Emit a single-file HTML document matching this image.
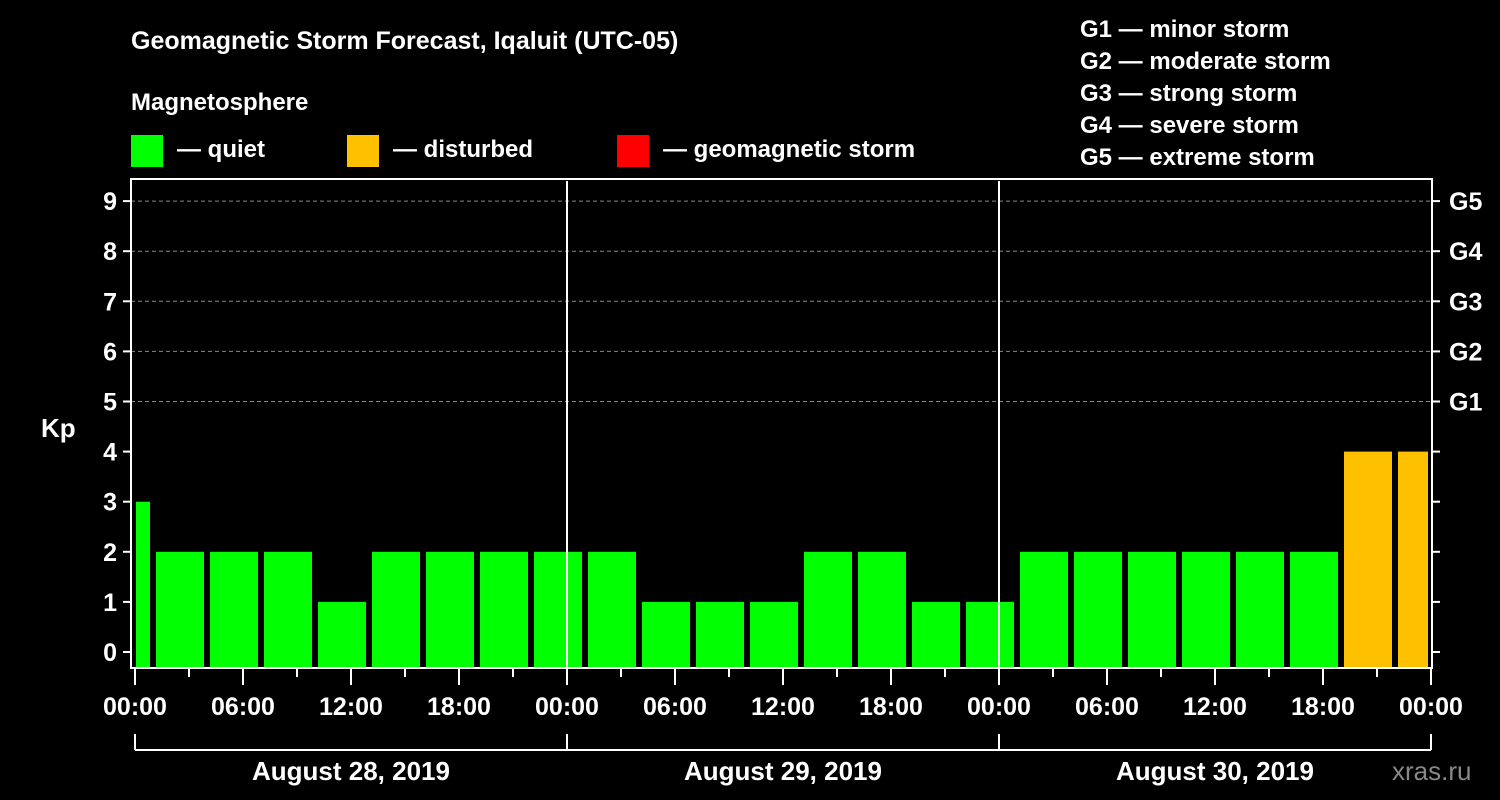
<!DOCTYPE html>
<html><head><meta charset="utf-8"><style>
body{margin:0;background:#000;}
svg{display:block;font-family:"Liberation Sans",Arial,sans-serif;font-weight:bold;}
</style></head><body>
<svg id="chart" width="1500" height="800" viewBox="0 0 1500 800">
<rect width="1500" height="800" fill="#000"/>
<text x="131" y="49" fill="#fff" font-size="25">Geomagnetic Storm Forecast, Iqaluit (UTC-05)</text>
<text x="131" y="110" fill="#fff" font-size="24">Magnetosphere</text>
<rect x="131" y="135" width="32" height="32" fill="#00ff00"/>
<text x="177" y="157" fill="#fff" font-size="24">— quiet</text>
<rect x="347" y="135" width="32" height="32" fill="#ffc000"/>
<text x="393" y="157" fill="#fff" font-size="24">— disturbed</text>
<rect x="617" y="135" width="32" height="32" fill="#ff0000"/>
<text x="663" y="157" fill="#fff" font-size="24">— geomagnetic storm</text>
<g fill="#fff" font-size="24">
<text x="1080" y="37">G1 — minor storm</text>
<text x="1080" y="69">G2 — moderate storm</text>
<text x="1080" y="101">G3 — strong storm</text>
<text x="1080" y="133">G4 — severe storm</text>
<text x="1080" y="165">G5 — extreme storm</text>
</g>
<text x="41" y="437" fill="#fff" font-size="26">Kp</text>
<text x="1392" y="780" fill="#888" font-size="26" font-weight="normal">xras.ru</text>
<g id="g"></g>
</svg>
<script>
const kpValues=[3,2,2,2,1,2,2,2,2,2,1,1,1,2,2,1,1,2,2,2,2,2,2,4,4];
const firstSlotHour=-2;
const yTicks=[0,1,2,3,4,5,6,7,8,9];
const gLabels=["G1","G2","G3","G4","G5"];
const xTickLabels=["00:00","06:00","12:00","18:00","00:00","06:00","12:00","18:00","00:00","06:00","12:00","18:00","00:00"];
const dayLabels=["August 28, 2019","August 29, 2019","August 30, 2019"];
const NS="http://www.w3.org/2000/svg";
const g=document.getElementById('g');
const X0=135,PXH=18,PL=131,PR=1432,PT=181,PB=668;
const xs=h=>X0+h*PXH;
const ys=v=>652-v*50.1;
function el(t,a){const e=document.createElementNS(NS,t);for(const k in a)e.setAttribute(k,a[k]);g.appendChild(e);return e;}
// grid
for(let v=5;v<=9;v++){const l=el('line',{x1:PL,x2:PR,y1:ys(v),y2:ys(v),stroke:'#888','stroke-dasharray':'4,3'});

}
// bars
kpValues.forEach((v,i)=>{const s=firstSlotHour+i*3;let a=xs(s)+3,b=xs(s+3)-3;a=Math.max(a,136);b=Math.min(b,1428);
const r=el('rect',{x:a,y:ys(v),width:b-a,height:PB-ys(v),fill:v>=5?'#ff0000':(v>=4?'#ffc000':'#00ff00')});

});
// day separators
[1,2].forEach(d=>{const l=el('line',{x1:xs(d*24),x2:xs(d*24),y1:PT,y2:PB,stroke:'#fff','stroke-width':2});

});
// border
const bd=el('rect',{x:PL,y:PT-2,width:PR-PL,height:PB-PT+2,fill:'none',stroke:'#fff','stroke-width':2});


// y ticks
yTicks.forEach(v=>{const y=ys(v);
el('line',{x1:PL-8,x2:PL,y1:y,y2:y,stroke:'#fff','stroke-width':2});
el('line',{x1:PR,x2:PR+8,y1:y,y2:y,stroke:'#fff','stroke-width':2});
const t=el('text',{x:PL-14,y:y+9,fill:'#fff','font-size':25,'text-anchor':'end'});t.textContent=v;

});
gLabels.forEach((s,i)=>{const t=el('text',{x:1449,y:ys(5+i)+9,fill:'#fff','font-size':25});t.textContent=s;

});
// x ticks
for(let h=0;h<=72;h+=3){const maj=h%6===0;el('line',{x1:xs(h),x2:xs(h),y1:PB,y2:PB+(maj?17:9),stroke:'#fff','stroke-width':2});}
xTickLabels.forEach((s,i)=>{const t=el('text',{x:xs(i*6),y:715,fill:'#fff','font-size':25,'text-anchor':'middle'});t.textContent=s;

});
// date brackets
el('line',{x1:xs(0),x2:xs(72),y1:750,y2:750,stroke:'#fff','stroke-width':2});
for(let d=0;d<=3;d++)el('line',{x1:xs(d*24),x2:xs(d*24),y1:734,y2:750,stroke:'#fff','stroke-width':2});
dayLabels.forEach((s,i)=>{const t=el('text',{x:xs(i*24+12),y:780,fill:'#fff','font-size':26,'text-anchor':'middle'});t.textContent=s;

});
</script>
</body></html>
